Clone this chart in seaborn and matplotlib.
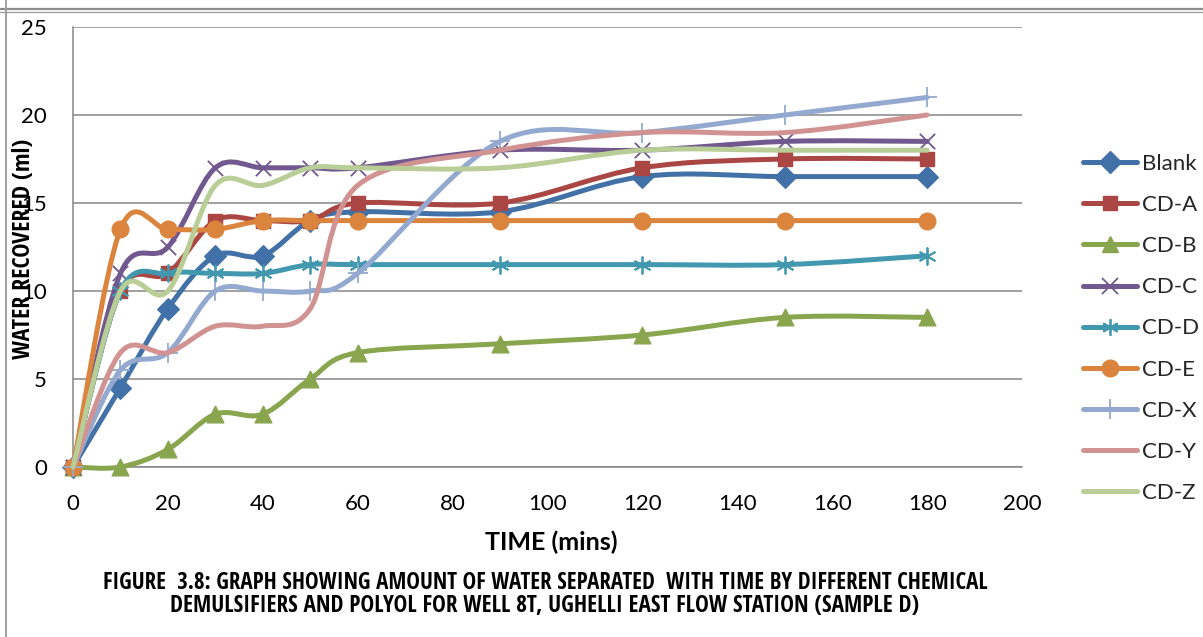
import numpy as np
import pandas as pd
import seaborn as sns
import matplotlib
matplotlib.use("Agg")
import matplotlib.pyplot as plt
from matplotlib.path import Path
from matplotlib.patches import PathPatch
from matplotlib.lines import Line2D
from matplotlib import font_manager
from matplotlib.font_manager import FontProperties

# ---------------- data ----------------
time_mins = [0, 10, 20, 30, 40, 50, 60, 90, 120, 150, 180]
blank = [0, 4.5, 9, 12, 12, 14, 14.5, 14.5, 16.5, 16.5, 16.5]
cd_a = [0, 10, 11, 14, 14, 14, 15, 15, 17, 17.5, 17.5]
cd_b = [0, 0, 1, 3, 3, 5, 6.5, 7, 7.5, 8.5, 8.5]
cd_c = [0, 11, 12.5, 17, 17, 17, 17, 18, 18, 18.5, 18.5]
cd_d = [0, 10, 11, 11, 11, 11.5, 11.5, 11.5, 11.5, 11.5, 12]
cd_e = [0, 13.5, 13.5, 13.5, 14, 14, 14, 14, 14, 14, 14]
cd_x = [0, 5.5, 6.5, 10, 10, 10, 11, 18.5, 19, 20, 21]
cd_y = [0, 6.5, 6.5, 8, 8, 9, 16, 18, 19, 19, 20]
cd_z = [0, 10, 10, 16, 16, 17, 17, 17, 18, 18, 18]

series_names = ["Blank", "CD-A", "CD-B", "CD-C", "CD-D", "CD-E", "CD-X", "CD-Y", "CD-Z"]
series_values = [blank, cd_a, cd_b, cd_c, cd_d, cd_e, cd_x, cd_y, cd_z]
x_ticks = [0, 20, 40, 60, 80, 100, 120, 140, 160, 180, 200]
y_ticks = [0, 5, 10, 15, 20, 25]

x_label = "TIME (mins)"
y_label = "WATER RECOVERED (ml)"
caption_1 = "FIGURE  3.8: GRAPH SHOWING AMOUNT OF WATER SEPARATED  WITH TIME BY DIFFERENT CHEMICAL"
caption_2 = "DEMULSIFIERS AND POLYOL FOR WELL 8T, UGHELLI EAST FLOW STATION (SAMPLE D)"

# ---------------- styles ----------------
colors = ["#4171A7", "#AA4643", "#89A54E", "#71588F", "#4198AF",
          "#DB843D", "#93A9CF", "#D19392", "#B9CD96"]
markers = ["D", "s", "^", "x", (6, 2, 0), "o", "+", None, None]
msizes = [11, 10.5, 12, 11, 12, 12, 14, 0, 0]

sns.set_theme(style="white")
avail = {f.name for f in font_manager.fontManager.ttflist}
main_font = "Lato" if "Lato" in avail else "DejaVu Sans"
plt.rcParams["font.family"] = [main_font, "DejaVu Sans"]


def find_narrow_bold():
    cond = {"condensed", "semi-condensed", "extra-condensed", "ultra-condensed", "narrow"}
    best = None
    for f in font_manager.fontManager.ttflist:
        st = str(f.stretch).lower()
        nm = f.name.lower()
        w = f.weight if isinstance(f.weight, int) else {"bold": 700}.get(str(f.weight), 400)
        is_cond = st in cond or "narrow" in nm or "condensed" in nm or \
            (isinstance(f.stretch, int) and f.stretch < 500)
        if is_cond and w >= 600 and f.style == "normal":
            score = 0
            if "liberation" in nm or "arial" in nm:
                score = 3
            elif "roboto" in nm or "open sans" in nm:
                score = 2
            elif "noto" in nm:
                score = 1
            if best is None or score > best[0]:
                best = (score, f.fname)
    if best:
        return FontProperties(fname=best[1])
    if "Liberation Sans" in avail:
        return FontProperties(family="Liberation Sans", weight="bold")
    return FontProperties(family="DejaVu Sans", weight="bold")


narrow_fp = find_narrow_bold()

W, H = 1203, 637
fig = plt.figure(figsize=(W / 100, H / 100), dpi=100)
ax = fig.add_axes([73 / W, 1 - 467 / H, (1022 - 73) / W, (467 - 27) / H])

df = pd.DataFrame({"time": time_mins})
for name, vals in zip(series_names, series_values):
    df[name] = vals


def smooth_path(xs, ys):
    pts = np.column_stack([xs, ys]).astype(float)
    n = len(pts)
    verts = [pts[0]]
    codes = [Path.MOVETO]
    for i in range(n - 1):
        p0 = pts[i - 1] if i > 0 else pts[i]
        p1 = pts[i]
        p2 = pts[i + 1]
        p3 = pts[i + 2] if i + 2 < n else pts[i + 1]
        c1 = p1 + (p2 - p0) / 6.0
        c2 = p2 - (p3 - p1) / 6.0
        verts += [c1, c2, p2]
        codes += [Path.CURVE4] * 3
    return Path(verts, codes)


LW = 3.6
handles = []
for k, name in enumerate(series_names):
    col = colors[k]
    z = 3 + k
    patch = PathPatch(smooth_path(df["time"], df[name]), facecolor="none",
                      edgecolor=col, lw=LW, zorder=z, capstyle="round",
                      joinstyle="round", clip_on=False)
    ax.add_patch(patch)
    mk = markers[k]
    filled = mk in ("D", "s", "^", "o")
    if mk is not None:
        sns.scatterplot(data=df, x="time", y=name, ax=ax, marker=mk,
                        s=msizes[k] ** 2, color=col,
                        edgecolor=col if filled else None,
                        linewidth=1.0 if filled else 1.3,
                        zorder=z + 0.5, clip_on=False, legend=False)
    handles.append(Line2D([0], [0], color=col, lw=LW, marker=mk,
                          markersize=msizes[k] if mk is not None else 0,
                          markeredgewidth=1.0 if filled else 1.3,
                          markerfacecolor=col, markeredgecolor=col,
                          label=name))

ax.set_xlim(0, 200)
ax.set_ylim(0, 25)
ax.set_xticks(x_ticks)
ax.set_yticks(y_ticks)
ax.set_xlabel("")
ax.set_ylabel("")
grid_col = "#868686"
ax.yaxis.grid(True, color=grid_col, lw=1.1)
ax.xaxis.grid(False)
ax.set_axisbelow(True)
for side in ["top", "right"]:
    ax.spines[side].set_visible(False)
for side in ["left", "bottom"]:
    ax.spines[side].set_color(grid_col)
    ax.spines[side].set_linewidth(1.1)
ax.tick_params(axis="both", which="both", direction="out", length=5.8,
               width=1.1, color=grid_col, labelsize=16, labelcolor="black")
ax.tick_params(axis="y", pad=13)
ax.tick_params(axis="x", pad=14)
ax.set_facecolor("white")

ax.legend(handles=handles, loc="upper left",
          bbox_to_anchor=(1083 / W, 1 - 154 / H),
          bbox_transform=fig.transFigure, frameon=False, fontsize=16,
          handlelength=2.45, handletextpad=0.2, labelspacing=0.95,
          borderaxespad=0, borderpad=0)

fig.text(551 / W, 1 - 542 / H, x_label, ha="center", va="center",
         fontsize=18, fontweight="bold", color="black")

renderer = fig.canvas.get_renderer()


def fitted_text(x, y, s, target_px, size, **kw):
    fp = narrow_fp.copy()
    fp.set_size(size)
    t = fig.text(x, y, s, fontproperties=fp, **kw)
    bb = t.get_window_extent(renderer=renderer)
    length = bb.height if kw.get("rotation", 0) == 90 else bb.width
    fp2 = narrow_fp.copy()
    fp2.set_size(size * target_px / length)
    t.set_fontproperties(fp2)
    return t


fitted_text(24 / W, 1 - 249 / H, y_label, 220, 15, ha="center", va="center",
            rotation=90, color="black")
fitted_text(545 / W, 1 - 583 / H, caption_1, 884, 12.7, ha="center",
            va="center", color="black")
fitted_text(545 / W, 1 - 606 / H, caption_2, 752, 12.7, ha="center",
            va="center", color="black")

# outer frame lines
frame_col = "#A0A0A0"
fig.add_artist(Line2D([0, 1], [1 - 8.5 / H, 1 - 8.5 / H], transform=fig.transFigure,
                      color="#8C8C8C", lw=1.6))
fig.add_artist(Line2D([0, 1], [1 - 11.5 / H, 1 - 11.5 / H], transform=fig.transFigure,
                      color=frame_col, lw=1.0))
fig.add_artist(Line2D([5.5 / W, 5.5 / W], [0, 1], transform=fig.transFigure,
                      color=frame_col, lw=1.4))

fig.savefig("out.png", dpi=100, facecolor="white")
